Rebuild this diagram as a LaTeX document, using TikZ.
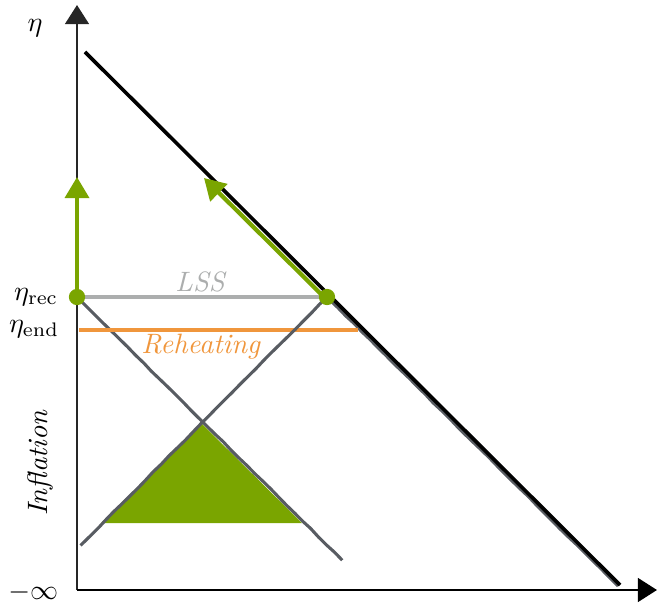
\documentclass[tikz,border=0pt]{standalone}
\usetikzlibrary{arrows.meta,decorations.pathmorphing}
\definecolor{leafgreen}{RGB}{122,165,0}
\definecolor{reheatorange}{RGB}{240,150,60}
\definecolor{lssgrey}{RGB}{172,174,174}
\definecolor{conegrey}{RGB}{88,92,98}
\begin{document}
\begin{tikzpicture}[
    x=0.357pt, y=-0.357pt,
    pencil/.style={decorate, decoration={random steps, segment length=4pt, amplitude=0.12pt}},
    axis/.style={line width=1pt, -{Triangle[length=6.8pt, width=8.4pt]}},
    cone/.style={conegrey, line width=1.1pt, pencil},
    flow/.style={leafgreen, line width=1.5pt, -{Triangle[length=7.5pt, width=8.5pt]}},
    dot/.style={circle, fill=leafgreen, minimum size=5.8pt, inner sep=0pt}
  ]
  \useasboundingbox (0,0) rectangle (659,608);
  % points of the diagram
  \coordinate (O) at (77,590);
  \coordinate (ytop) at (77,5);
  \coordinate (xend) at (657,590);
  \coordinate (diagtop) at (85,52);
  \coordinate (diagend) at (620,585);
  \coordinate (endL) at (79,330);
  \coordinate (endR) at (358,330);
  \coordinate (coneL) at (80,300);
  \coordinate (coneLend) at (343,561);
  \coordinate (coneRend) at (80,546);
  \coordinate (coneDend) at (618,586);
  \coordinate (apex) at (202,424);
  \coordinate (baseL) at (101,523);
  \coordinate (baseR) at (302,523);
  \coordinate (upL) at (77,177);
  \coordinate (upR) at (206,177);
  % past light cones
  \fill[leafgreen] (apex) -- (baseL) -- (baseR) -- cycle;
  \draw[cone] (coneL) -- (coneLend);
  \draw[cone] (330,300) -- (coneDend);
  % axes and horizon
  \draw[axis, black!85] (O) -- (ytop);
  \draw[axis] (O) -- (xend);
  \draw[line width=1.3pt] (diagtop) -- (diagend);
  % surfaces
  \draw[reheatorange, line width=1.2pt] (endL) -- (endR);
  \node[reheatorange] (reheat) at (201,347) {\textit{Reheating}};
  \coordinate (rec) at (77,297);
  \coordinate (recR) at (327,297);
  \draw[lssgrey, line width=1.2pt] (rec) -- (recR);
  \node[lssgrey] (lss) at (201,282) {\textit{LSS}};
  \draw[cone] (recR) -- (coneRend);
  \draw[flow] (rec) -- (upL);
  \draw[flow] ([shift={(-2,1)}]recR) -- ([shift={(-2,1)}]upR);
  \node[dot] (recdot) at (rec) {};
  \node[dot] (recRdot) at (recR) {};
  % labels
  \node (eta) at (35,28) {$\eta$};
  \node[anchor=east] (etarec) at (68,297) {$\eta_{\mathrm{rec}}$};
  \node[anchor=east] (etaend) at (69,329) {$\eta_{\mathrm{end}}$};
  \node[anchor=east] (minf) at (68,592) {$-\infty$};
  \node[rotate=90] (infl) at (40,463) {\textit{Inflation}};
\end{tikzpicture}
\end{document}
